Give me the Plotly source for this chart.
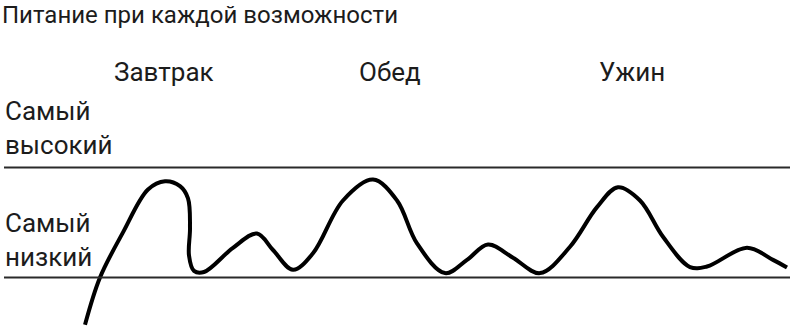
import plotly.graph_objects as go

# Time along the day (arbitrary units) and blood-sugar level (0 = lowest, 1 = highest)
time = [85, 100, 123, 148, 165, 180, 188, 190, 189, 194, 204, 233, 257, 273, 293, 313, 343, 373,
        397, 417, 445, 467, 488, 513, 540, 570, 597, 618, 640, 663, 690, 707, 747, 773, 787]
level = [-0.43, 0.0, 0.41, 0.80, 0.875, 0.83, 0.72, 0.45, 0.20, 0.06, 0.05, 0.27, 0.40, 0.25, 0.07, 0.22, 0.70, 0.89,
         0.70, 0.31, 0.04, 0.16, 0.30, 0.18, 0.04, 0.28, 0.64, 0.82, 0.70, 0.37, 0.095, 0.10, 0.27, 0.16, 0.09]

meals = ["Завтрак", "Обед", "Ужин"]
meal_x = [164, 390, 632]
level_labels = ["Самый<br>высокий", "Самый<br>низкий"]
title_text = "Питание при каждой возможности"

FONT = "Roboto"
TXT = "#1c1c1c"

fig = go.Figure()
fig.add_trace(go.Scatter(x=time, y=level, mode="lines",
                         line=dict(color="#000000", width=4, shape="spline", smoothing=1.0),
                         hoverinfo="skip", showlegend=False))

for yv in [0, 1]:
    fig.add_shape(type="line", xref="x", yref="y", x0=4, x1=790, y0=yv, y1=yv,
                  line=dict(color="#2a2a2a", width=2))

ann = []
ann.append(dict(text=title_text, x=0, y=1 - 15 / 328, xref="paper", yref="paper",
                xanchor="left", yanchor="middle", showarrow=False,
                font=dict(family=FONT, size=24, color=TXT)))
for m, mx in zip(meals, meal_x):
    ann.append(dict(text=m, x=mx, y=1 - 72 / 328, xref="x", yref="paper",
                    xanchor="center", yanchor="middle", showarrow=False,
                    font=dict(family=FONT, size=26, color=TXT)))
for lab, yc in zip(level_labels, [128, 240]):
    ann.append(dict(text=lab, x=3 / 790, y=1 - yc / 328, xref="paper", yref="paper",
                    xanchor="left", yanchor="middle", showarrow=False, align="left",
                    font=dict(family=FONT, size=26, color=TXT)))

ymax = 167.5 / 110 + 1
ymin = ymax - 328 / 110
fig.update_layout(
    width=790, height=328, margin=dict(l=0, r=0, t=0, b=0),
    paper_bgcolor="white", plot_bgcolor="white",
    xaxis=dict(range=[0, 790], visible=False, fixedrange=True),
    yaxis=dict(range=[ymin, ymax], visible=False, fixedrange=True),
    annotations=ann,
)
fig.write_html("out.html")
